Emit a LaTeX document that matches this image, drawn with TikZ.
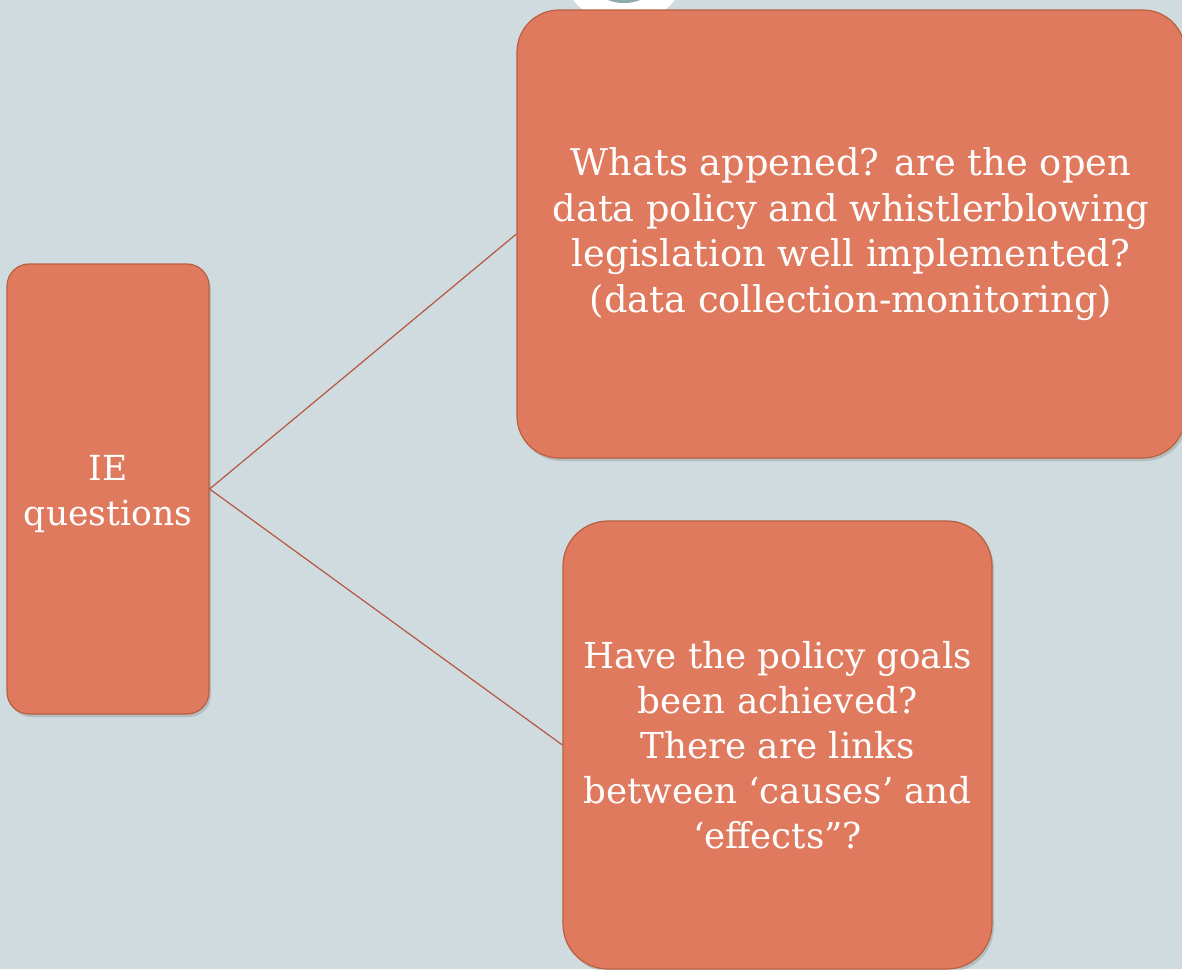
\documentclass[tikz,border=0pt]{standalone}
\usepackage{fontspec}
\setmainfont{DejaVu Serif}
\usetikzlibrary{shadows}
\definecolor{bg}{HTML}{CFDBDF}
\definecolor{boxfill}{HTML}{E07A5F}
\definecolor{boxedge}{HTML}{B8603F}
\definecolor{linkc}{HTML}{B5583E}
\definecolor{teal}{HTML}{8FA8AA}
\begin{document}
\begin{tikzpicture}[x=1pt,y=-1pt,
  card/.style={draw=boxedge, line width=1.2pt, fill=boxfill, text=white,
    align=center, inner sep=0pt,
    drop shadow={shadow xshift=2pt, shadow yshift=-3pt, opacity=0.25, fill=black!60}},
  cardtext/.style={text=white, align=center, inner sep=0pt},
  link/.style={draw=linkc, line width=1.2pt}]
\fill[bg] (0,0) rectangle (1182,969);
\useasboundingbox (0,0) rectangle (1182,969);
\fill[white] (624,-42) circle[radius=66];
\fill[teal] (624,-42) circle[radius=45];
\node[card, rounded corners=22pt, minimum width=202pt, minimum height=450pt] (ie) at (108,489) {};
\node[cardtext, font=\fontsize{34.5}{45}\selectfont] (ietxt) at (108,494) {IE\\questions};
\node[card, rounded corners=42pt, minimum width=668pt, minimum height=448pt,
  font=\fontsize{36.8}{45.5}\selectfont] (top) at (851,234) {Whats appened? are the open\\data policy and whistlerblowing\\legislation well implemented?\\(data collection-monitoring)};
\node[card, rounded corners=45pt, minimum width=429pt, minimum height=448pt,
  font=\fontsize{35.7}{45}\selectfont] (bot) at (777.5,745) {Have the policy goals\\been achieved?\\There are links\\between ‘causes’ and\\‘effects”?};
\draw[link] (ie.east) -- (top.west);
\draw[link] (ie.east) -- (bot.west);
\end{tikzpicture}
\end{document}
